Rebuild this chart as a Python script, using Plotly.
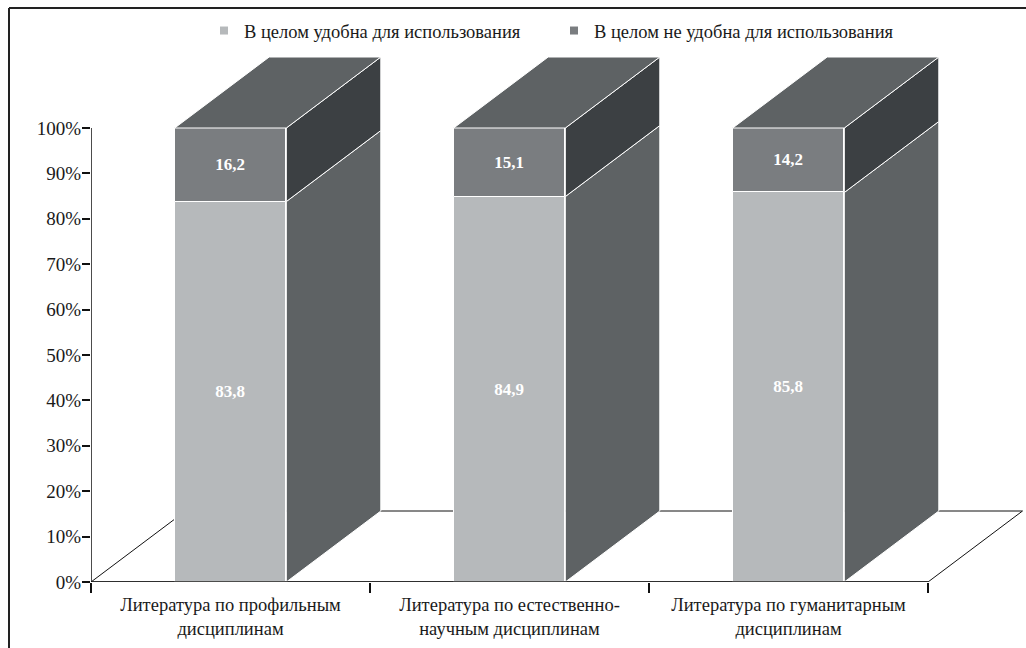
import plotly.graph_objects as go

# Survey shares, %
categories = [
    "Литература по профильным<br>дисциплинам",
    "Литература по естественно-<br>научным дисциплинам",
    "Литература по гуманитарным<br>дисциплинам",
]
convenient = [83.8, 84.9, 85.8]
not_convenient = [16.2, 15.1, 14.2]
series_names = ["В целом удобна для использования", "В целом не удобна для использования"]
y_ticks = [0, 10, 20, 30, 40, 50, 60, 70, 80, 90, 100]

# Figure geometry
W, H = 1026, 648
ML, MR, MT, MB = 91, 2, 55, 66
PX_PER_UNIT_X = 279.0
PX_PER_PCT = 4.54
plot_w = W - ML - MR
plot_h = H - MT - MB
x_range = [-0.5, -0.5 + plot_w / PX_PER_UNIT_X]
y_range = [0, plot_h / PX_PER_PCT]

BAR_W = 0.4
DEPTH_X = 94.5 / PX_PER_UNIT_X      # depth offset in category units
DEPTH_Y = 71.0 / PX_PER_PCT         # depth offset in percent units

FONT = "'Liberation Serif', 'Times New Roman', Tinos, 'DejaVu Serif', serif"
C_FRONT_LOW = "#b6b9bb"
C_FRONT_UP = "#7a7d80"
C_TOP = "#5e6264"
C_SIDE_UP = "#3c4043"
C_SIDE_LOW = "#5e6264"
EDGE = "white"
INK = "#1a1a1a"

xs = list(range(len(categories)))
fig = go.Figure()

# Front faces of the stacked bars
fig.add_trace(go.Bar(
    x=xs, y=convenient, width=BAR_W, name=series_names[0],
    marker=dict(color=C_FRONT_LOW, line=dict(color=EDGE, width=1)),
    text=[f"{v:.1f}".replace(".", ",") for v in convenient],
    textposition="inside", insidetextanchor="middle",
    textfont=dict(family=FONT, size=17, color="white", weight="bold"),
    showlegend=False, hoverinfo="skip",
))
fig.add_trace(go.Bar(
    x=xs, y=not_convenient, base=convenient, width=BAR_W, name=series_names[1],
    marker=dict(color=C_FRONT_UP, line=dict(color=EDGE, width=1)),
    text=[f"{v:.1f}".replace(".", ",") for v in not_convenient],
    textposition="inside", insidetextanchor="middle",
    textfont=dict(family=FONT, size=17, color="white", weight="bold"),
    showlegend=False, hoverinfo="skip",
))


def face(px, py, color):
    fig.add_trace(go.Scatter(
        x=px + [px[0]], y=py + [py[0]], mode="lines", fill="toself",
        fillcolor=color, line=dict(color=EDGE, width=1),
        showlegend=False, hoverinfo="skip",
    ))


# Side and top faces giving each column its depth
for x, low, up in zip(xs, convenient, not_convenient):
    l, r = x - BAR_W / 2, x + BAR_W / 2
    total = low + up
    face([r, r, r + DEPTH_X, r + DEPTH_X], [0, low, low + DEPTH_Y, DEPTH_Y], C_SIDE_LOW)
    face([r, r, r + DEPTH_X, r + DEPTH_X], [low, total, total + DEPTH_Y, low + DEPTH_Y], C_SIDE_UP)
    face([l, r, r + DEPTH_X, l + DEPTH_X], [total, total, total + DEPTH_Y, total + DEPTH_Y], C_TOP)

# Legend entries
for name, col in zip(series_names, [C_FRONT_LOW, C_FRONT_UP]):
    fig.add_trace(go.Scatter(
        x=[None], y=[None], mode="markers", name=name,
        marker=dict(symbol="square", size=8, color=col), showlegend=True,
    ))

shapes = []
# Floor of the chart
x_end = len(categories) - 0.5
shapes.append(dict(
    type="path", xref="x", yref="y", layer="below",
    path=(f"M -0.5,0 L {x_end},0 L {x_end + DEPTH_X},{DEPTH_Y} "
          f"L {-0.5 + DEPTH_X},{DEPTH_Y} Z"),
    line=dict(color="#111111", width=1), fillcolor="rgba(0,0,0,0)",
))
shapes.append(dict(type="line", xref="x", yref="y", x0=-0.5, x1=x_end, y0=0, y1=0,
                   line=dict(color="#111111", width=1.5), layer="above"))
# Value axis line
shapes.append(dict(type="line", xref="x", yref="y", x0=-0.5, x1=-0.5, y0=0, y1=100,
                   line=dict(color="#111111", width=1.5), layer="above"))


def px_to_paper_x(p):
    return (p - ML) / plot_w


def px_to_paper_y(p):
    return (H - MB - p) / plot_h


# Outer frame (top and left edges)
shapes.append(dict(type="line", xref="paper", yref="paper",
                   x0=px_to_paper_x(9), x1=px_to_paper_x(1030),
                   y0=px_to_paper_y(8), y1=px_to_paper_y(8),
                   line=dict(color="#222222", width=2)))
shapes.append(dict(type="line", xref="paper", yref="paper",
                   x0=px_to_paper_x(9), x1=px_to_paper_x(9),
                   y0=px_to_paper_y(8), y1=px_to_paper_y(660),
                   line=dict(color="#222222", width=2)))

fig.update_layout(
    width=W, height=H,
    margin=dict(l=ML, r=MR, t=MT, b=MB, pad=0),
    paper_bgcolor="white", plot_bgcolor="white",
    barmode="overlay", bargap=0,
    font=dict(family=FONT, size=17, color=INK),
    shapes=shapes,
    showlegend=True,
    legend=dict(
        orientation="h", x=px_to_paper_x(204), xanchor="left",
        y=px_to_paper_y(31), yanchor="middle",
        font=dict(family=FONT, size=18.5, color=INK),
        bgcolor="rgba(0,0,0,0)", itemwidth=30,
        entrywidthmode="pixels", entrywidth=305,
    ),
    xaxis=dict(
        range=x_range, showgrid=False, zeroline=False, showline=False,
        tickmode="array", tickvals=xs, ticktext=categories, ticks="",
        minor=dict(tickmode="array", tickvals=[-0.5, 0.5, 1.5, 2.5],
                   ticks="outside", ticklen=10, tickwidth=1.5, tickcolor="#111111"),
        tickfont=dict(family=FONT, size=18.5, color=INK),
        ticklabelstandoff=9,
        fixedrange=True,
    ),
    yaxis=dict(
        range=y_range, showgrid=False, zeroline=False, showline=False,
        tickmode="array", tickvals=y_ticks, ticktext=[f"{v}%" for v in y_ticks],
        ticks="outside", ticklen=8, tickwidth=1.5, tickcolor="#111111",
        tickfont=dict(family=FONT, size=19, color=INK),
        ticklabelstandoff=-3,
        fixedrange=True,
    ),
)

fig.write_html("out.html")
